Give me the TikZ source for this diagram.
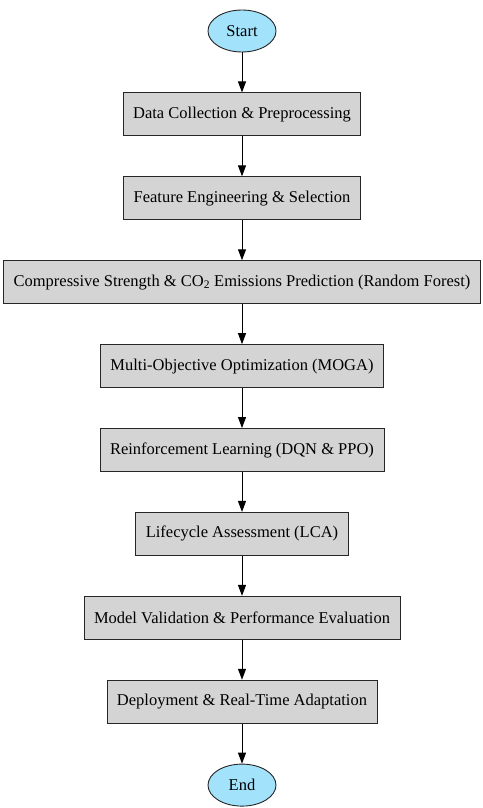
\documentclass[tikz,border=0pt]{standalone}
\usepackage{fontspec}
\setmainfont{Liberation Serif}
\usetikzlibrary{arrows.meta,shapes,positioning}
\definecolor{termblue}{RGB}{162,226,250}
\definecolor{stagegray}{RGB}{212,212,212}
\tikzstyle{term}=[ellipse,draw=black!85,fill=termblue,line width=0.9pt,
                minimum width=68pt,minimum height=42pt,inner sep=0pt]
\tikzstyle{stage}=[rectangle,draw=black!85,fill=stagegray,line width=0.9pt,
                minimum height=43pt,inner xsep=10pt]
\tikzstyle{flow}=[draw,line width=1pt,-{Triangle[length=11pt,width=8pt]}]

\begin{document}
\begin{tikzpicture}[x=1pt,y=1pt,node distance=40pt,
    font=\fontsize{16.5}{19}\selectfont]
  \useasboundingbox (0,0) rectangle (482,-808);
  \node[term] (start) at (242,-31) {Start};
  \node[stage,below = of start] (collect) {Data Collection \& Preprocessing};
  \node[stage,below = of collect] (feature) {Feature Engineering \& Selection};
  \node[stage,below = of feature] (predict) {Compressive Strength \& CO\textsubscript{2} Emissions Prediction (Random Forest)};
  \node[stage,below = of predict] (moga) {Multi-Objective Optimization (MOGA)};
  \node[stage,below = of moga] (rl) {Reinforcement Learning (DQN \& PPO)};
  \node[stage,below = of rl] (lca) {Lifecycle Assessment (LCA)};
  \node[stage,below = of lca] (valid) {Model Validation \& Performance Evaluation};
  \node[stage,below = of valid] (deploy) {Deployment \& Real-Time Adaptation};
  \node[term,below = of deploy] (end) {End};

  \draw[flow] (start) -- (collect);
  \draw[flow] (collect) -- (feature);
  \draw[flow] (feature) -- (predict);
  \draw[flow] (predict) -- (moga);
  \draw[flow] (moga) -- (rl);
  \draw[flow] (rl) -- (lca);
  \draw[flow] (lca) -- (valid);
  \draw[flow] (valid) -- (deploy);
  \draw[flow] (deploy) -- (end);
\end{tikzpicture}
\end{document}
